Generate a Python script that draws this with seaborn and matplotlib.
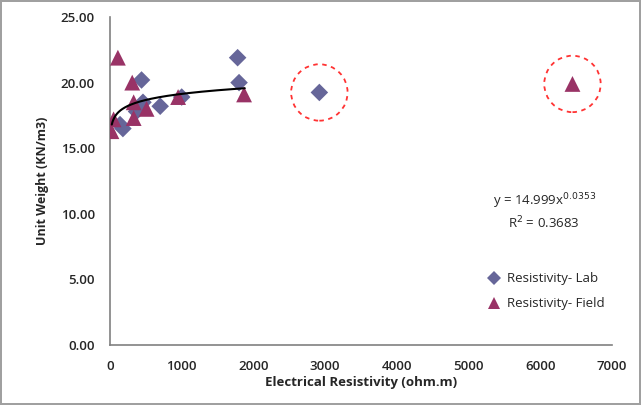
import pandas as pd
import matplotlib.pyplot as plt
import seaborn as sns
import numpy as np

# values
lab_x = [140, 180, 370, 460, 440, 700, 1000, 1780, 1800, 2920]
lab_y = [16.8, 16.5, 17.8, 18.5, 20.2, 18.2, 18.9, 21.9, 20.0, 19.25]
field_x = [20, 50, 110, 310, 330, 330, 510, 950, 1870, 6450]
field_y = [16.3, 17.2, 21.9, 20.0, 18.5, 17.3, 18.0, 18.9, 19.1, 19.9]
outlier_x = [2920, 6450]
outlier_y = [19.25, 19.9]
fit_a = 14.999
fit_b = 0.0353
fit_r2 = 0.3683
x_ticks = [0, 1000, 2000, 3000, 4000, 5000, 6000, 7000]
y_ticks = [0, 5, 10, 15, 20, 25]

df = pd.DataFrame({
    'x': lab_x + field_x,
    'y': lab_y + field_y,
    'kind': ['Resistivity- Lab'] * len(lab_x) + ['Resistivity- Field'] * len(field_x),
})

sns.set_style("white")
plt.rcParams['font.family'] = ['Open Sans', 'DejaVu Sans']

fig = plt.figure(figsize=(6.41, 4.05), dpi=100, linewidth=1.5, edgecolor='#a0a0a0')
ax = fig.add_axes([0.1716, 0.148, 0.783, 0.81])

sns.scatterplot(data=df, x='x', y='y', hue='kind', style='kind', size='kind',
                palette={'Resistivity- Lab': '#666699', 'Resistivity- Field': '#993366'},
                markers={'Resistivity- Lab': 'D', 'Resistivity- Field': '^'},
                sizes={'Resistivity- Lab': 80, 'Resistivity- Field': 130},
                linewidth=0, ax=ax, zorder=3)

# power trendline over the clustered data
xs = np.linspace(25, 1880, 200)
ax.plot(xs, fit_a * xs ** fit_b, color='black', lw=1.5, zorder=4)

# dashed circles around the outliers
ax.scatter(outlier_x, outlier_y, s=1650, facecolors='none', edgecolors='#ff3333',
           linestyles=(0, (2.5, 2.5)), linewidths=1.3, zorder=2)

ax.text(0.865, 0.44, 'y = 14.999x$^{0.0353}$', transform=ax.transAxes,
        ha='center', va='center', fontsize=9.5)
ax.text(0.865, 0.372, 'R$^{2}$ = 0.3683', transform=ax.transAxes,
        ha='center', va='center', fontsize=9.5)

ax.set_xlim(0, 7000)
ax.set_ylim(0, 25)
ax.set_xticks(x_ticks)
ax.set_yticks(y_ticks)
ax.set_yticklabels(['%.2f' % v for v in y_ticks])
ax.tick_params(axis='both', direction='out', length=5, width=1, color='#808080',
               labelsize=9.5, pad=6)
for lab in ax.get_xticklabels() + ax.get_yticklabels():
    lab.set_fontweight('semibold')

for s in ['top', 'right']:
    ax.spines[s].set_visible(False)
for s in ['left', 'bottom']:
    ax.spines[s].set_color('#808080')
    ax.spines[s].set_linewidth(1.2)

ax.set_xlabel('Electrical Resistivity (ohm.m)', fontsize=9.5, fontweight='bold', labelpad=2)
ax.set_ylabel('Unit Weight (KN/m3)', fontsize=9, fontweight='bold', labelpad=8)

leg = ax.legend(loc='lower left', bbox_to_anchor=(0.715, 0.07), frameon=False,
                fontsize=9.5, handletextpad=0.0, labelspacing=0.9, markerscale=0.8)
leg.set_zorder(5)

fig.savefig('out.png', dpi=100)
